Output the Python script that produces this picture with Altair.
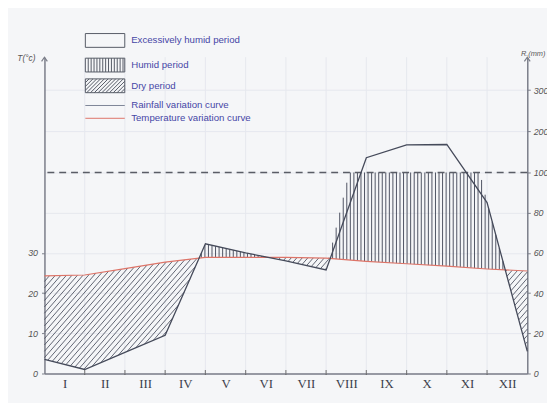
import altair as alt
import numpy as np
import pandas as pd

# ---------------- data ----------------
months = ["I", "II", "III", "IV", "V", "VI", "VII", "VIII", "IX", "X", "XI", "XII"]
bounds = list(range(13))                      # month boundaries (start of I ... end of XII)
rain_mm = [7, 2, 10.5, 19, 64.5, 60, 56, 51.5, 136, 167, 168, 85, 11]
temp_c = [24.3, 24.5, 26.1, 27.7, 28.9, 28.9, 28.9, 28.7, 27.9, 27.3, 26.7, 26.0, 25.5]
left_ticks_c = [0, 10, 20, 30]
right_ticks_mm = [0, 20, 40, 60, 80, 100, 200, 300]
excess_limit_mm = 100
legend_items = ["Excessively humid period", "Humid period", "Dry period",
                "Rainfall variation curve", "Temperature variation curve"]

# ---------------- layout / style ----------------
W, H = 490, 321
Y100 = 204                       # pixels from bottom to the 100 mm level
PXM = W / 12.0                   # px per month
PPMM = Y100 / 100.0              # px per mm below 100
INK = "#454a5a"
RED = "#dd7468"
BG = "#f5f6f8"
GRID = "#e6e8ee"

yscale = alt.Scale(domain=[0, 100, 380], range=[H, H - Y100, 0], nice=False, zero=False)
xscale = alt.Scale(domain=[0, 12], nice=False, zero=False)

roman_expr = "[" + ",".join("'%s'" % m for m in months) + "][floor(datum.value)]"
xaxis = alt.Axis(values=[i + 0.5 for i in range(12)], labelExpr=roman_expr, ticks=False,
                 grid=False, domainColor="#7a7d88", domainWidth=1.5, labelFont="Liberation Serif",
                 labelFontSize=13, labelColor="#3c3f4c", labelPadding=4, title=None)

def X(field="m"):
    return alt.X(field + ":Q", scale=xscale, axis=xaxis)

# ---------------- derived frames ----------------
base = pd.DataFrame({"m": bounds, "rain": rain_mm, "temp": temp_c})
base["temp2"] = base["temp"] * 2          # Gaussen: P = 2T

xs = np.linspace(0, 12, 12001)
r = np.interp(xs, bounds, rain_mm)
t = np.interp(xs, bounds, base["temp2"].values)

# diagonal hatch in dry periods
slope = 1.15
step_px = 5.6
segs = []
for c in np.arange(-slope * W, 140, slope * step_px):
    ym = (c + slope * xs * PXM) / PPMM
    inside = (r < t) & (ym >= r) & (ym <= t)
    if not inside.any():
        continue
    d = np.diff(np.concatenate([[0], inside.astype(int), [0]]))
    starts = np.where(d == 1)[0]
    ends = np.where(d == -1)[0] - 1
    for s, e in zip(starts, ends):
        if e > s:
            segs.append((xs[s], ym[s], xs[e], ym[e]))
dry = pd.DataFrame(segs, columns=["x1", "y1", "x2", "y2"])

# vertical hatch in humid periods
xh = np.arange(0.02, 12, 3.6 / PXM)
rh = np.interp(xh, bounds, rain_mm)
th = np.interp(xh, bounds, base["temp2"].values)
mask = rh > th
humid = pd.DataFrame({"x": xh[mask], "lo": th[mask], "hi": np.minimum(rh[mask], excess_limit_mm)})

# ---------------- layers ----------------
grid_v = alt.Chart(pd.DataFrame({"m": bounds[1:-1]})).mark_rule(color=GRID, strokeWidth=1).encode(
    x=X())

dry_layer = alt.Chart(dry).mark_rule(color=INK, strokeWidth=0.85).encode(
    x=X("x1"), x2="x2:Q",
    y=alt.Y("y1:Q", scale=yscale, axis=None), y2="y2:Q")

humid_layer = alt.Chart(humid).mark_rule(color=INK, strokeWidth=0.95).encode(
    x=X("x"),
    y=alt.Y("lo:Q", scale=yscale, axis=None), y2="hi:Q")

dash = alt.Chart(pd.DataFrame({"v": [excess_limit_mm]})).mark_rule(
    color="#5a5d66", strokeWidth=1.3, strokeDash=[7, 5]).encode(
    y=alt.Y("v:Q", scale=yscale, axis=None))

temp_layer = alt.Chart(base).mark_line(color=RED, strokeWidth=1.2).encode(
    x=X(),
    y=alt.Y("temp2:Q", scale=yscale,
            axis=alt.Axis(orient="left", values=[v * 2 for v in left_ticks_c],
                          labelExpr="format(datum.value/2, 'd')", grid=False,
                          domainColor="#7a7d88", domainWidth=1.5, tickColor="#7a7d88",
                          tickSize=3, labelFont="Liberation Sans", labelFontStyle="italic",
                          labelFontSize=9, labelColor="#555", labelPadding=4,
                          title="T(°c)", titleAngle=0, titleAlign="left", titleBaseline="middle",
                          titleX=-28, titleY=0, titleFont="Liberation Sans",
                          titleFontStyle="italic", titleFontWeight="normal",
                          titleFontSize=8.5, titleColor="#555")))

rain_layer = alt.Chart(base).mark_line(color=INK, strokeWidth=1.3).encode(
    x=X(),
    y=alt.Y("rain:Q", scale=yscale,
            axis=alt.Axis(orient="right", values=right_ticks_mm, format="d",
                          grid=True, gridColor=GRID,
                          domainColor="#7a7d88", domainWidth=1.5, tickColor="#7a7d88",
                          tickSize=3, labelFont="Liberation Sans", labelFontStyle="italic",
                          labelFontSize=9, labelColor="#555", labelPadding=3,
                          title="R.(mm)", titleAngle=0, titleAlign="left", titleBaseline="middle",
                          titleX=-7, titleY=-4, titleFont="Liberation Sans",
                          titleFontStyle="italic", titleFontWeight="normal",
                          titleFontSize=7.5, titleColor="#555")))

ticks = alt.Chart(pd.DataFrame({"m": bounds[1:-1]})).mark_tick(
    color="#555", thickness=1.2, size=5, orient="vertical").encode(
    x=X(), y=alt.value(H - 1))

arrow_path = "M-0.7,1L0,0L0.7,1"
arrows = alt.Chart(pd.DataFrame({"m": [0, 12]})).mark_point(
    shape=arrow_path, size=70, filled=False, color="#7a7d88", strokeWidth=1.2, opacity=1).encode(
    x=X(), y=alt.value(0))

# legend symbols: custom paths in units of r = sqrt(symbolSize)/2 = 7 px
R = 7.0
HW = 20.0 / R                      # half width of the 40 px boxes

def box(extra):
    # outline box 14 px tall; the extra move only pads the row height
    return "M0,%.3f" % extra + "M%.3f,-1H%.3fV1H%.3fZ" % (-HW, HW, -HW)

vh = box(1.29) + "".join("M%.3f,-1V1" % x for x in np.arange(-HW + 0.42, HW - 0.1, 0.42))
dh = box(1.43)
for x0 in np.arange(-HW - 2.0, HW, 0.55):
    xa, ya, xb, yb = x0, 1.0, x0 + 2.0, -1.0
    if xb <= -HW:
        continue
    if xa < -HW:
        ya = 1.0 - (-HW - xa); xa = -HW
    if xb > HW:
        yb = -1.0 + (xb - HW); xb = HW
    dh += "M%.3f,%.3fL%.3f,%.3f" % (xa, ya, xb, yb)
line_sym = "M%.3f,0H%.3f" % (-HW, HW)
paths = [box(1.86), vh, dh, line_sym, line_sym]
legend_colors = ["#555a66", "#555a66", "#555a66", "#7d8496", RED]

leg = alt.Legend(orient="none", legendX=54, legendY=-24.5, title=None, symbolSize=4 * R * R,
                 symbolStrokeWidth=1, symbolOpacity=1, symbolFillColor="transparent",
                 labelFont="Liberation Sans", labelFontSize=9.8, labelColor="#4646a6",
                 labelOffset=19, labelLimit=300, rowPadding=0, padding=0, gridAlign="each")
legend_layer = alt.Chart(pd.DataFrame({"item": legend_items})).mark_point(opacity=0, filled=False).encode(
    shape=alt.Shape("item:N", scale=alt.Scale(domain=legend_items, range=paths), legend=leg, sort=legend_items),
    stroke=alt.Stroke("item:N", scale=alt.Scale(domain=legend_items, range=legend_colors), legend=leg, sort=legend_items),
    x=alt.value(0), y=alt.value(0))

chart = alt.layer(grid_v, dry_layer, humid_layer, dash, temp_layer, rain_layer, ticks, arrows,
                  legend_layer).resolve_axis(y="independent").properties(
    width=W, height=H, background=BG,
    padding={"left": 37, "top": 47, "right": 20, "bottom": 27},
    autosize=alt.AutoSizeParams(type="none"),
).configure_view(stroke=None)

chart.save("out.html", embed_options={"renderer": "svg", "actions": False})
